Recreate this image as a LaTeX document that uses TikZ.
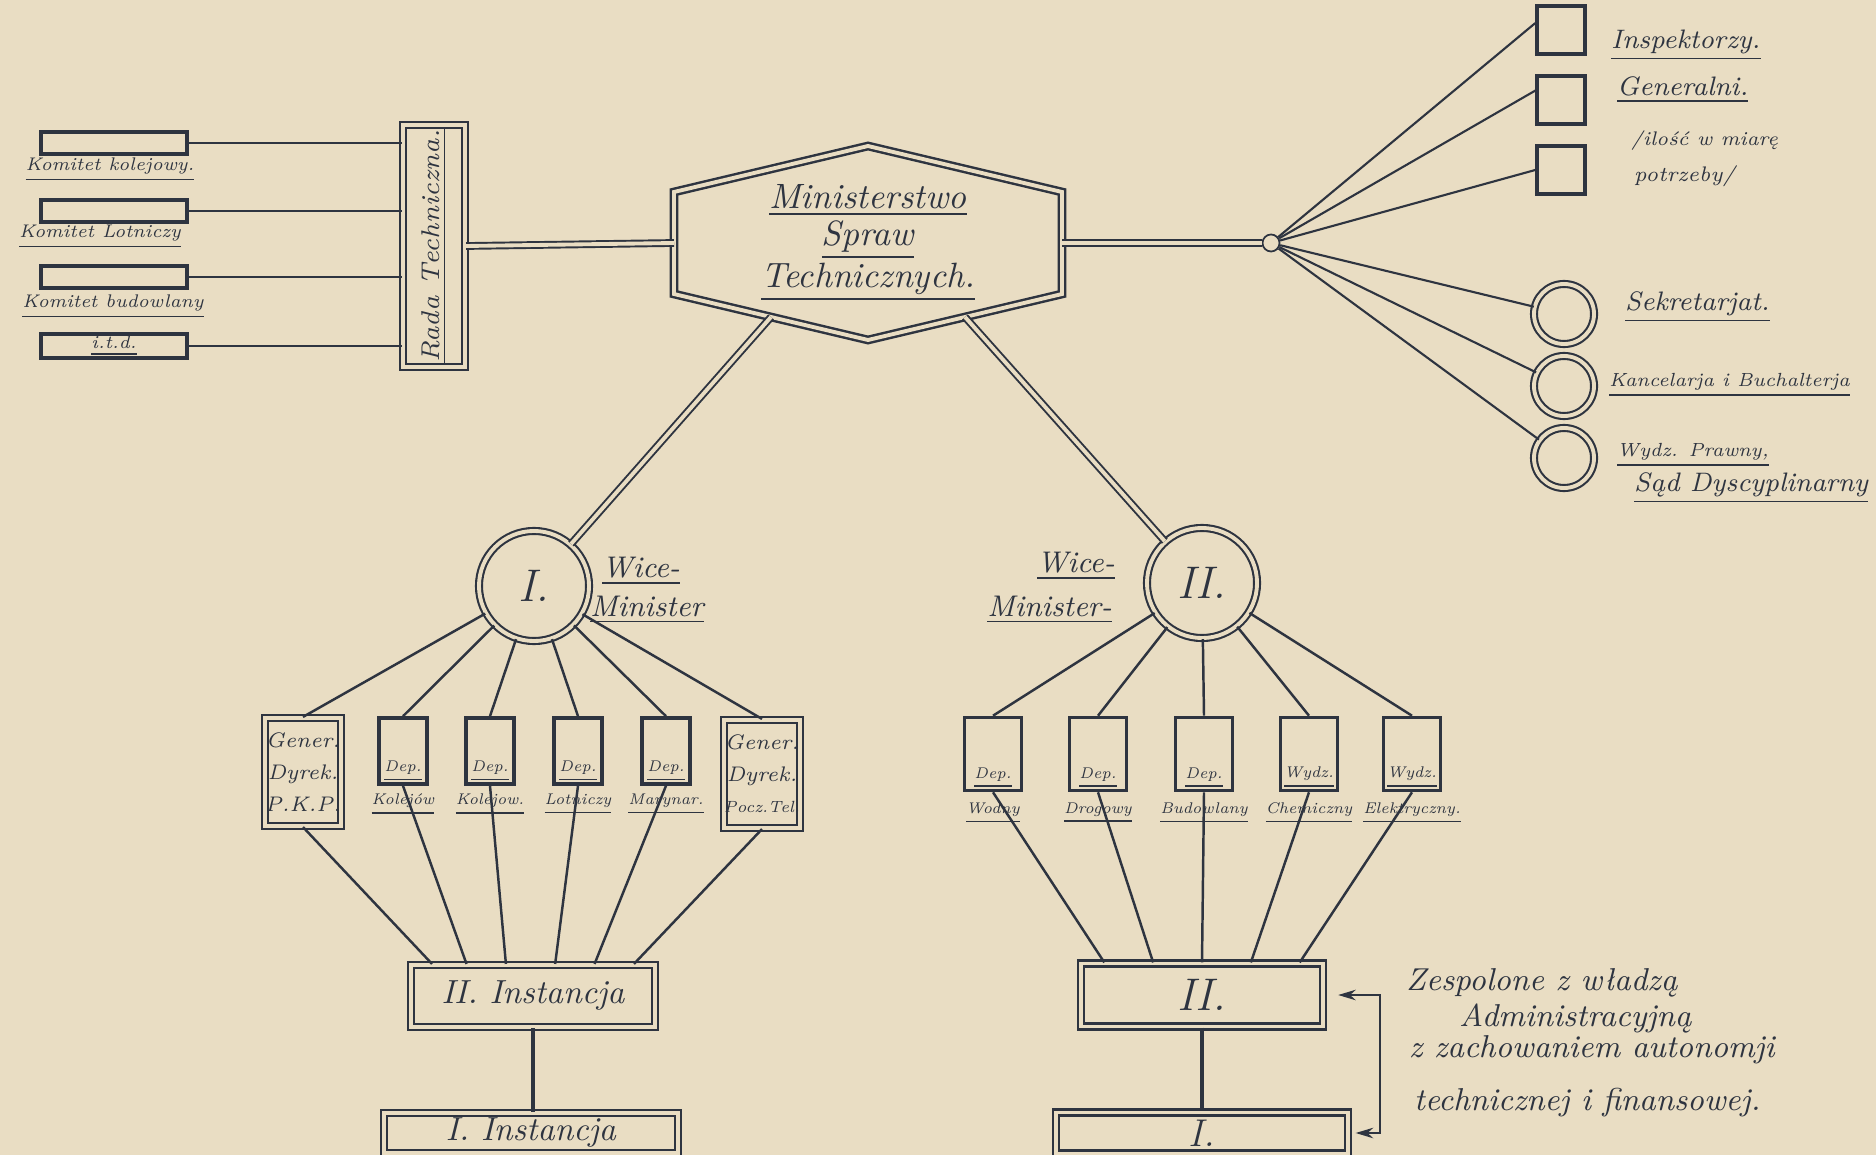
\documentclass[tikz,border=0pt]{standalone}
\usepackage{graphicx}
\usepackage{tikz}
\usetikzlibrary{calc,arrows.meta}
\definecolor{Paper}{HTML}{E9DDC3}
\definecolor{Ink}{HTML}{2E3440}

\begin{document}
\begin{tikzpicture}[x=0.01cm,y=-0.01cm,color=Ink,
  conn/.style={draw=Ink,line width=0.7pt},
  dblline/.style={draw=Ink,line width=0.55pt,double=Paper,double distance=1.1pt},
  dblbox/.style={draw=Ink,line width=0.6pt,double=Paper,double distance=1.1pt,inner sep=0pt},
  solidbox/.style={draw=Ink,line width=1pt,inner sep=0pt},
  tinytxt/.style={inner sep=1pt,font=\itshape\fontsize{4.4}{5.5}\selectfont},
  deptxt/.style={font=\itshape\fontsize{6}{9}\selectfont},
  smalltxt/.style={inner sep=1pt,font=\itshape\fontsize{5.2}{6.5}\selectfont},
  labtxt/.style={inner sep=1pt,font=\itshape\fontsize{7.6}{9}\selectfont},
  midtxt/.style={inner sep=1pt,font=\itshape\fontsize{8.5}{10}\selectfont},
  bigtxt/.style={inner sep=1pt,font=\itshape\fontsize{10}{10.4}\selectfont},
  numtxt/.style={font=\itshape\fontsize{13}{14}\selectfont}]

% --- paper ---
\fill[Paper] (0,0) rectangle (1876,1155);
\useasboundingbox (0,0) rectangle (1876,1155);

% --- Rada Techniczna and committees ---
\node[dblbox, minimum width=0.62cm, minimum height=2.42cm, font=\itshape\fontsize{7.3}{8}\selectfont] (rada) at (434,246) {\rotatebox{90}{\underline{Rada Techniczna.}}};
\foreach \i/\y/\h in {1/143/0.22,2/211/0.22,3/277/0.22,4/346/0.24}{
  \node[solidbox, line width=0.9pt, minimum width=1.46cm, minimum height=\h cm] (kom\i) at (114,\y) {};
  \draw[conn] (kom\i.east) -- (kom\i.east -| rada.west);
}
\node[smalltxt] (kom1-t) at (110,170) {\underline{Komitet kolejowy.}};
\node[smalltxt] (kom2-t) at (100,237) {\underline{Komitet Lotniczy}};
\node[smalltxt] (kom3-t) at (113,307) {\underline{Komitet budowlany}};
\node[smalltxt] (kom4-t) at (kom4) {\underline{i.t.d.}};

% --- Ministerstwo ---
\coordinate (mst) at (868,243);
\foreach \n/\dx/\dy in {NW/-194/-51,N/0/-97,NE/194/-51,SE/194/51,S/0/97,SW/-194/51,W/-194/0,E/194/0}
  \coordinate (hex\n) at ($(mst)+(\dx,\dy)$);
\draw[dblline, line width=0.7pt] (hexNW) -- (hexN) -- (hexNE) -- (hexSE) -- (hexS) -- (hexSW) -- cycle;
\node[bigtxt, align=center] (mst-t) at (mst) {\underline{Ministerstwo}\\\underline{Spraw}\\\underline{Technicznych.}};
\coordinate (hexL) at ($(hexSW)!0.5!(hexS)$);
\coordinate (hexR) at ($(hexSE)!0.5!(hexS)$);
\draw[dblline] (rada.east) -- (hexW);

% --- inspectors, offices ---
\node[draw=Ink, circle, line width=0.5pt, fill=Paper, minimum size=0.17cm, inner sep=0pt] (hub) at (1271,243) {};
\draw[dblline] (hexE) -- (hub);
\foreach \i/\y in {1/30,2/100,3/170}
  \node[solidbox, minimum size=0.48cm] (sq\i) at (1561,\y) {};
\foreach \i/\y in {1/314,2/386,3/458}
  \node[dblbox, circle, minimum size=0.6cm] (ci\i) at (1564,\y) {};
\foreach \t in {sq1.165,sq2.160,sq3.west,ci1,ci2,ci3}
  \draw[conn, line width=0.6pt] (hub) -- (\t);
\node[labtxt, anchor=west] (insp-t) at (1607,45) {\underline{Inspektorzy.}};
\node[labtxt, anchor=west] (gen-t) at (1613,90) {\underline{Generalni.}};
\node[smalltxt, font=\itshape\fontsize{5.6}{7}\selectfont, anchor=west] (ilosc-t) at (1627,141) {/ilość w miarę};
\node[smalltxt, font=\itshape\fontsize{6}{7}\selectfont, anchor=west] (potrz-t) at (1630,176) {potrzeby/};
\node[labtxt, anchor=west] (sekr-t) at (1621,307) {\underline{Sekretarjat.}};
\node[labtxt, font=\itshape\fontsize{5.4}{7}\selectfont, anchor=west] (kanc-t) at (1605,385) {\underline{Kancelarja i Buchalterja}};
\node[labtxt, font=\itshape\fontsize{5.4}{7}\selectfont, anchor=west] (wydz-t) at (1613,455) {\underline{Wydz. Prawny,}};
\node[labtxt, anchor=west] (sad-t) at (1630,488) {\underline{Sąd Dyscyplinarny}};

% --- vice ministers ---
\node[dblbox, circle, minimum size=1.1cm, numtxt] (vm1) at (534,586) {I.};
\node[dblbox, circle, minimum size=1.1cm, numtxt] (vm2) at (1202,583) {II.};
\draw[dblline] (hexL) -- (vm1);
\draw[dblline] (hexR) -- (vm2);
\node[midtxt, anchor=west] (vm1-a) at (598,571) {\underline{Wice-}};
\node[midtxt, anchor=west] (vm1-b) at (586,610) {\underline{Minister}};
\node[midtxt, anchor=east] (vm2-a) at (1119,566) {\underline{Wice-}};
\node[midtxt, anchor=east] (vm2-b) at (1116,610) {\underline{Minister-}};

% --- departments I ---
\node[dblbox, minimum width=0.72cm, minimum height=1.08cm, align=center, deptxt] (gpkp) at (303,772) {Gener.\\Dyrek.\\P.K.P.};
\node[dblbox, minimum width=0.73cm, minimum height=1.08cm, align=center, deptxt] (gptt) at (762,774) {Gener.\\Dyrek.\\{\fontsize{4.6}{6}\selectfont Pocz.Tel.}};
\foreach \i/\x/\nm in {1/403/Kolejów,2/490/Kolejow.,3/578/Lotniczy,4/666/Marynar.}{
  \node[solidbox, minimum width=0.48cm, minimum height=0.66cm] (dl\i) at (\x,751) {};
  \node[tinytxt, anchor=south] (dl\i-a) at (dl\i.south) {\underline{Dep.}};
  \node[tinytxt, anchor=north] (dl\i-b) at ($(dl\i.south)+(0,4)$) {\underline{\nm}};
}

% --- departments II ---
\foreach \i/\x/\kind/\nm in {1/993/Dep./Wodny,2/1098/Dep./Drogowy,3/1204/Dep./Budowlany,4/1309/Wydz./Chemiczny,5/1412/Wydz./Elektryczny.}{
  \node[solidbox, minimum width=0.57cm, minimum height=0.73cm] (dr\i) at (\x,754) {};
  \node[tinytxt, anchor=south] (dr\i-a) at (dr\i.south) {\underline{\kind}};
  \node[tinytxt, anchor=north] (dr\i-b) at ($(dr\i.south)+(0,6)$) {\underline{\nm}};
}

% --- instances ---
\node[dblbox, minimum width=2.44cm, minimum height=0.62cm, font=\itshape\fontsize{9.5}{10}\selectfont] (inst2l) at (533,996) {II. Instancja};
\node[dblbox, minimum width=2.93cm, minimum height=0.40cm, font=\itshape\fontsize{9.5}{10}\selectfont] (inst1l) at (531,1133) {I. Instancja};
\node[dblbox, minimum width=2.42cm, minimum height=0.63cm, numtxt] (inst2r) at (1202,995) {II.};
\node[dblbox, minimum width=2.91cm, minimum height=0.41cm, font=\itshape\fontsize{11}{12}\selectfont] (inst1r) at (1202,1133) {I.};

% --- connectors ---
\foreach \t in {gpkp,dl1,dl2,dl3,dl4,gptt}
  \draw[conn] (vm1) -- (\t.north);
\foreach \t/\f in {gpkp/0.09,dl1/0.23,dl2/0.39,dl3/0.59,dl4/0.75,gptt/0.91}
  \draw[conn] (\t.south) -- ($(inst2l.north west)!\f!(inst2l.north east)$);
\foreach \i in {1,...,5}
  \draw[conn] (vm2) -- (dr\i.north);
\foreach \i/\f in {1/0.1,2/0.3,3/0.5,4/0.7,5/0.9}
  \draw[conn] (dr\i.south) -- ($(inst2r.north west)!\f!(inst2r.north east)$);
\draw[conn, line width=1pt] (inst2l.south) -- (inst2l.south |- inst1l.north);
\draw[conn, line width=1pt] (inst2r.south) -- (inst2r.south |- inst1r.north);

% --- bracket and note ---
\coordinate (brtop) at ($(inst2r.east)+(56,0)$);
\coordinate (brbot) at (brtop |- inst1r.east);
\draw[conn, line width=0.5pt, {Stealth[length=5pt,width=3pt]}-{Stealth[length=5pt,width=3pt]}, shorten <=4pt, shorten >=2pt] (inst2r.east) -- (brtop) -- (brbot) -- (inst1r.east);
\node[midtxt, font=\itshape\fontsize{9}{10}\selectfont, anchor=west] (note1) at (1402,983) {Zespolone z władzą};
\node[midtxt, font=\itshape\fontsize{9}{10}\selectfont, anchor=west] (note2) at (1455,1018) {Administracyjną};
\node[midtxt, font=\itshape\fontsize{9}{10}\selectfont, anchor=west] (note3) at (1405,1050) {z zachowaniem autonomji};
\node[midtxt, font=\itshape\fontsize{9}{10}\selectfont, anchor=west] (note4) at (1410,1103) {technicznej i finansowej.};
\end{tikzpicture}
\end{document}
